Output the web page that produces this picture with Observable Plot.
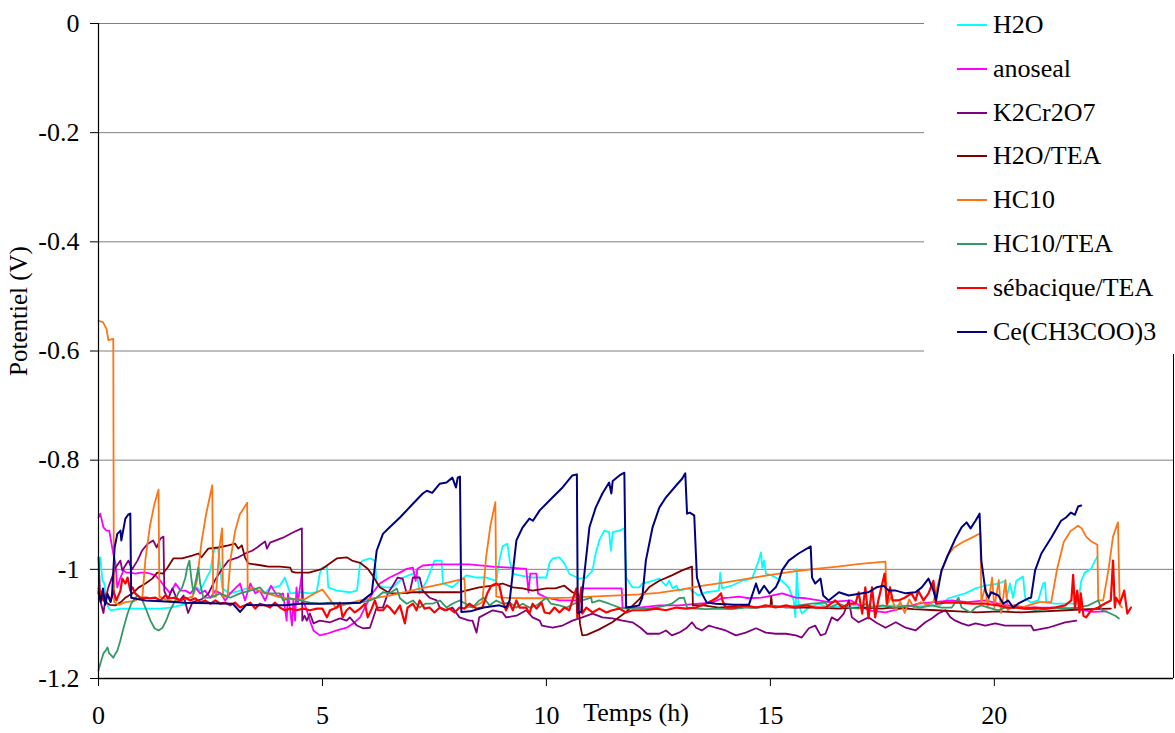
<!DOCTYPE html>
<html>
<head>
<meta charset="utf-8">
<script src="https://cdn.jsdelivr.net/npm/d3@7"></script>
<script src="https://cdn.jsdelivr.net/npm/@observablehq/plot@0.6"></script>
<style>
  html, body { margin: 0; padding: 0; background: #fff; }
  #wrap { position: relative; width: 1175px; height: 733px; font-family: "Liberation Serif", "Times New Roman", Tinos, "DejaVu Serif", serif; }
  #legend { position: absolute; left: 924px; top: 0; width: 251px; height: 354px; background: #fff; }
  .row { position: absolute; left: 0; height: 30px; width: 251px; }
  .sw { position: absolute; left: 33px; top: 14px; width: 30px; height: 2px; }
  .lb { position: absolute; left: 69px; top: 0; line-height: 30px; font-size: 26px; color: #000; white-space: nowrap; }
</style>
</head>
<body>
<div id="wrap"><div id="chart"></div><div id="legend"></div></div>
<script>
// ---- Data (time in hours, potential in V) ----
const seriesNames = ["H2O", "anoseal", "K2Cr2O7", "H2O/TEA", "HC10", "HC10/TEA", "sébacique/TEA", "Ce(CH3COO)3"];
const seriesColors = ["#00FFFF", "#FF00FF", "#800080", "#800000", "#FF7414", "#339966", "#FF0000", "#000080"];
const xTicks = [0, 5, 10, 15, 20];
const yTicks = [0, -0.2, -0.4, -0.6, -0.8, -1, -1.2];

const h2o = [[0,-1.002],[0.04,-0.978],[0.09,-1.021],[0.13,-1.026],[0.18,-1.057],[0.22,-1.07],[0.27,-1.075],[0.49,-1.072],[0.71,-1.072],[0.94,-1.072],[1.16,-1.072],[1.38,-1.072],[1.6,-1.07],[1.83,-1.066],[2.05,-1.061],[2.12,-1.044],[2.2,-1.033],[2.27,-1.039],[2.38,-1.021],[2.5,-1.002],[2.56,-0.971],[2.6,-0.962],[2.67,-0.962],[2.72,-0.997],[2.76,-1.033],[2.83,-1.039],[2.94,-1.044],[3.16,-1.039],[3.39,-1.033],[3.5,-1.039],[3.72,-1.044],[3.83,-1.033],[3.94,-1.033],[4.05,-1.03],[4.16,-1.015],[4.28,-1.044],[4.5,-1.042],[4.72,-1.044],[4.87,-1.042],[4.94,-1.008],[4.99,-0.997],[5.1,-0.995],[5.13,-1.033],[5.32,-1.039],[5.61,-1.042],[5.77,-1.039],[5.84,-0.989],[5.9,-0.984],[6.06,-0.98],[6.17,-0.984],[6.21,-1.026],[6.35,-1.033],[6.57,-1.033],[6.8,-1.015],[7.02,-1.008],[7.1,-1.002],[7.17,-1.044],[7.33,-1.021],[7.5,-0.984],[7.66,-0.984],[7.69,-1.026],[7.9,-1.033],[8.06,-1.021],[8.22,-1.011],[8.44,-1.015],[8.66,-1.015],[8.88,-1.021],[8.95,-0.984],[9.02,-0.958],[9.13,-0.953],[9.18,-0.984],[9.25,-1.008],[9.4,-1.011],[9.69,-1.015],[10.0,-1.015],[10.07,-0.988],[10.14,-0.98],[10.29,-0.978],[10.4,-0.989],[10.51,-1.008],[10.73,-1.017],[10.89,-1.015],[11.03,-1.002],[11.1,-0.971],[11.18,-0.947],[11.29,-0.929],[11.4,-0.932],[11.44,-0.966],[11.48,-0.932],[11.63,-0.929],[11.74,-0.925],[11.78,-1.015],[11.92,-1.033],[12.07,-1.033],[12.14,-1.026],[12.37,-1.021],[12.52,-1.017],[12.67,-1.03],[12.74,-1.021],[12.82,-1.035],[12.9,-1.03],[12.96,-1.039],[13.18,-1.035],[13.4,-1.048],[13.56,-1.042],[13.85,-1.039],[13.88,-1.006],[13.92,-1.035],[14.14,-1.03],[14.37,-1.021],[14.59,-1.017],[14.74,-0.984],[14.79,-0.969],[14.82,-0.997],[14.86,-0.984],[14.9,-1.008],[15.03,-1.011],[15.26,-1.021],[15.41,-1.033],[15.52,-1.057],[15.56,-1.088],[15.59,-0.999],[15.63,-1.063],[15.7,-1.081],[15.86,-1.07],[16.08,-1.063],[16.3,-1.07],[16.8,-1.066],[17.3,-1.068],[17.8,-1.066],[18.3,-1.068],[18.8,-1.065],[18.98,-1.053],[19.35,-1.044],[19.58,-1.035],[19.8,-1.03],[20.09,-1.026],[20.24,-1.021],[20.27,-1.052],[20.35,-1.026],[20.42,-1.052],[20.49,-1.021],[20.57,-1.017],[20.64,-1.013],[20.69,-1.053],[20.82,-1.061],[20.98,-1.057],[21.09,-1.026],[21.13,-1.024],[21.16,-1.061],[21.36,-1.063],[21.65,-1.063],[21.87,-1.063],[21.94,-1.021],[22.02,-1.006],[22.16,-0.999],[22.25,-0.984],[22.3,-0.977]];

const anoseal = [[0,-0.905],[0.04,-0.898],[0.11,-0.923],[0.18,-0.929],[0.24,-0.929],[0.29,-0.953],[0.33,-0.971],[0.38,-0.989],[0.42,-1.033],[0.49,-1.015],[0.56,-1.002],[0.62,-1.006],[0.71,-1.006],[0.82,-1.008],[0.94,-1.006],[1.05,-1.006],[1.16,-1.008],[1.27,-1.011],[1.38,-1.021],[1.49,-1.033],[1.6,-1.044],[1.72,-1.026],[1.83,-1.039],[1.94,-1.039],[2.05,-1.044],[2.16,-1.033],[2.27,-1.044],[2.38,-1.039],[2.5,-1.052],[2.61,-1.039],[2.72,-1.044],[2.83,-1.057],[2.94,-1.044],[3.16,-1.026],[3.27,-1.057],[3.39,-1.026],[3.5,-1.044],[3.6,-1.039],[3.72,-1.057],[3.85,-1.03],[4.0,-1.05],[4.12,-1.044],[4.2,-1.094],[4.23,-1.044],[4.32,-1.103],[4.35,-1.057],[4.39,-1.094],[4.42,-1.033],[4.45,-1.063],[4.54,-1.008],[4.57,-1.057],[4.65,-1.075],[4.72,-1.094],[4.8,-1.112],[4.94,-1.121],[5.1,-1.118],[5.32,-1.112],[5.54,-1.107],[5.69,-1.099],[5.84,-1.088],[5.99,-1.063],[6.13,-1.042],[6.28,-1.026],[6.5,-1.015],[6.73,-1.006],[6.88,-0.999],[7.02,-0.997],[7.08,-1.021],[7.12,-0.999],[7.24,-0.993],[7.55,-0.991],[7.9,-0.991],[8.28,-0.991],[8.8,-0.995],[9.18,-0.997],[9.55,-0.999],[9.6,-1.042],[9.64,-1.008],[9.78,-1.008],[9.81,-1.044],[10.0,-1.052],[10.29,-1.057],[10.45,-1.057],[10.78,-1.057],[10.8,-1.035],[11.2,-1.035],[11.68,-1.035],[11.7,-1.07],[12.07,-1.07],[12.52,-1.066],[12.96,-1.066],[13.4,-1.063],[13.7,-1.061],[13.92,-1.053],[14.08,-1.052],[14.3,-1.05],[14.52,-1.053],[14.8,-1.052],[15.03,-1.048],[15.26,-1.044],[15.57,-1.052],[15.8,-1.053],[16.08,-1.057],[16.3,-1.06],[16.8,-1.057],[17.19,-1.075],[17.57,-1.079],[18.0,-1.07],[18.3,-1.063],[19.05,-1.057],[19.4,-1.06],[19.8,-1.057],[20.2,-1.065],[20.82,-1.07],[21.3,-1.07],[21.8,-1.072],[22.2,-1.078],[22.5,-1.077]];

const k2cr2o7 = [[0,-0.978],[0.04,-1.057],[0.11,-1.08],[0.15,-1.057],[0.22,-1.033],[0.38,-0.997],[0.49,-0.984],[0.53,-1.002],[0.67,-0.984],[0.75,-1.0],[0.87,-0.984],[0.97,-0.966],[1.1,-0.953],[1.22,-0.947],[1.3,-0.96],[1.38,-0.944],[1.45,-0.94],[1.47,-1.04],[1.55,-1.055],[1.65,-1.035],[1.78,-1.06],[1.9,-1.048],[2.0,-1.08],[2.1,-1.06],[2.3,-1.055],[2.45,-1.045],[2.6,-1.02],[2.76,-0.999],[2.9,-0.984],[3.12,-0.978],[3.3,-0.97],[3.43,-0.966],[3.54,-0.96],[3.65,-0.953],[3.72,-0.949],[3.76,-0.962],[3.83,-0.951],[4.12,-0.942],[4.35,-0.932],[4.54,-0.925],[4.55,-1.094],[4.6,-1.085],[4.65,-1.094],[4.72,-1.081],[4.8,-1.099],[4.94,-1.094],[5.17,-1.097],[5.39,-1.09],[5.54,-1.094],[5.61,-1.088],[5.77,-1.103],[5.9,-1.108],[6.06,-1.107],[6.21,-1.07],[6.35,-1.07],[6.46,-1.044],[6.57,-1.03],[6.68,-1.015],[6.79,-1.017],[6.88,-1.044],[6.95,-1.042],[7.02,-1.015],[7.17,-1.015],[7.24,-1.039],[7.39,-1.052],[7.55,-1.057],[7.62,-1.07],[7.77,-1.075],[7.9,-1.07],[8.06,-1.088],[8.28,-1.094],[8.35,-1.094],[8.44,-1.116],[8.5,-1.088],[8.8,-1.075],[9.02,-1.079],[9.1,-1.088],[9.33,-1.085],[9.55,-1.075],[9.69,-1.088],[9.85,-1.094],[9.9,-1.103],[10.14,-1.107],[10.36,-1.103],[10.58,-1.094],[10.8,-1.088],[11.03,-1.081],[11.25,-1.088],[11.47,-1.09],[11.7,-1.094],[11.92,-1.097],[12.1,-1.107],[12.25,-1.118],[12.52,-1.118],[12.67,-1.112],[12.8,-1.121],[12.96,-1.116],[13.12,-1.108],[13.25,-1.097],[13.34,-1.107],[13.47,-1.112],[13.63,-1.103],[13.78,-1.107],[14.0,-1.112],[14.23,-1.121],[14.45,-1.116],[14.68,-1.108],[14.9,-1.116],[15.12,-1.118],[15.35,-1.118],[15.57,-1.121],[15.7,-1.125],[15.86,-1.108],[16.0,-1.103],[16.12,-1.121],[16.23,-1.118],[16.37,-1.088],[16.5,-1.094],[16.64,-1.081],[16.75,-1.057],[16.82,-1.088],[16.97,-1.097],[17.19,-1.088],[17.35,-1.097],[17.57,-1.107],[17.8,-1.097],[18.02,-1.107],[18.24,-1.112],[18.46,-1.097],[18.6,-1.09],[18.75,-1.081],[18.91,-1.075],[19.02,-1.088],[19.13,-1.094],[19.27,-1.099],[19.42,-1.103],[19.58,-1.099],[19.8,-1.103],[20.02,-1.099],[20.24,-1.103],[20.5,-1.103],[20.82,-1.103],[20.88,-1.112],[21.2,-1.107],[21.58,-1.097],[21.83,-1.094]];

const h2oTea = [[0,-1.035],[0.05,-1.05],[0.15,-1.06],[0.25,-1.065],[0.38,-1.066],[0.5,-1.06],[0.6,-1.052],[0.76,-1.044],[0.9,-1.033],[1.05,-1.026],[1.2,-1.017],[1.31,-1.006],[1.43,-1.008],[1.54,-0.997],[1.67,-0.98],[1.87,-0.98],[2.09,-0.975],[2.23,-0.971],[2.3,-0.978],[2.45,-0.962],[2.67,-0.96],[2.9,-0.956],[3.05,-0.953],[3.12,-0.962],[3.2,-0.956],[3.27,-0.978],[3.34,-0.989],[3.65,-0.993],[3.79,-0.995],[4.05,-0.995],[4.28,-0.997],[4.32,-1.004],[4.4,-1.006],[4.7,-1.006],[5.0,-0.999],[5.17,-0.989],[5.32,-0.98],[5.54,-0.978],[5.66,-0.984],[5.84,-0.988],[6.01,-0.999],[6.12,-1.011],[6.28,-1.033],[6.5,-1.044],[6.73,-1.044],[7.0,-1.042],[7.4,-1.042],[7.77,-1.042],[8.06,-1.042],[8.2,-1.039],[8.5,-1.033],[8.8,-1.03],[9.02,-1.026],[9.25,-1.033],[9.47,-1.035],[9.69,-1.039],[10.0,-1.035],[10.2,-1.035],[10.4,-1.03],[10.58,-1.042],[10.7,-1.044],[10.75,-1.1],[10.8,-1.121],[10.9,-1.12],[11.18,-1.11],[11.47,-1.097],[11.78,-1.078],[12.07,-1.055],[12.29,-1.033],[12.52,-1.021],[12.8,-1.011],[13.03,-1.002],[13.25,-0.995],[13.27,-1.066],[13.5,-1.066],[13.85,-1.07],[14.2,-1.068],[14.6,-1.07],[15.0,-1.068],[15.02,-1.05],[15.04,-1.068],[15.5,-1.07],[16.0,-1.07],[16.5,-1.072],[17.0,-1.07],[17.5,-1.072],[17.7,-1.07],[18.2,-1.073],[18.7,-1.075],[19.2,-1.077],[19.6,-1.079],[20.1,-1.077],[20.6,-1.079],[21.1,-1.077],[21.6,-1.075],[22.1,-1.073],[22.6,-1.072]];

const hc10 = [[0,-0.545],[0.1,-0.547],[0.18,-0.56],[0.22,-0.58],[0.33,-0.578],[0.34,-0.95],[0.35,-1.06],[0.45,-1.065],[0.6,-1.06],[0.8,-1.058],[0.98,-1.05],[1.05,-0.98],[1.15,-0.92],[1.25,-0.88],[1.34,-0.854],[1.36,-1.05],[1.5,-1.055],[1.7,-1.06],[1.9,-1.055],[2.1,-1.05],[2.2,-1.02],[2.3,-0.95],[2.4,-0.9],[2.54,-0.846],[2.56,-1.05],[2.62,-1.05],[2.7,-0.96],[2.76,-0.925],[2.78,-1.05],[2.88,-1.05],[2.95,-0.98],[3.05,-0.93],[3.15,-0.9],[3.32,-0.878],[3.33,-1.04],[3.43,-1.033],[3.6,-1.04],[3.8,-1.045],[4.0,-1.05],[4.3,-1.055],[4.6,-1.055],[4.8,-1.045],[5.0,-1.037],[5.3,-1.07],[5.6,-1.062],[5.84,-1.057],[6.5,-1.048],[7.2,-1.035],[7.7,-1.026],[8.17,-1.017],[8.2,-1.07],[8.4,-1.068],[8.57,-1.06],[8.65,-0.98],[8.75,-0.92],[8.86,-0.877],[8.88,-1.05],[9.0,-1.052],[9.5,-1.053],[10,-1.053],[10.5,-1.052],[11,-1.05],[11.5,-1.048],[12.07,-1.046],[12.5,-1.043],[13,-1.037],[13.5,-1.03],[14,-1.024],[14.5,-1.017],[15,-1.01],[15.5,-1.004],[16,-0.999],[16.5,-0.995],[17,-0.99],[17.57,-0.986],[17.6,-1.066],[17.7,-1.05],[17.8,-1.075],[17.9,-1.06],[18.0,-1.08],[18.1,-1.055],[18.2,-1.07],[18.35,-1.06],[18.5,-1.065],[18.64,-1.06],[18.8,-1.01],[18.95,-0.975],[19.1,-0.96],[19.3,-0.95],[19.5,-0.942],[19.69,-0.934],[19.71,-1.06],[19.8,-1.03],[19.85,-1.07],[19.95,-1.015],[20.0,-1.07],[20.1,-1.02],[20.15,-1.08],[20.25,-1.02],[20.3,-1.075],[20.45,-1.065],[20.6,-1.07],[20.8,-1.065],[21.0,-1.06],[21.27,-1.06],[21.4,-1.0],[21.55,-0.95],[21.7,-0.93],[21.87,-0.92],[21.95,-0.925],[22.05,-0.94],[22.15,-0.948],[22.3,-0.955],[22.32,-1.057],[22.43,-1.057],[22.55,-1.0],[22.65,-0.94],[22.76,-0.914],[22.8,-1.065],[22.85,-1.07]];

const hc10Tea = [[0,-1.185],[0.04,-1.173],[0.11,-1.154],[0.16,-1.149],[0.2,-1.143],[0.24,-1.154],[0.29,-1.158],[0.33,-1.162],[0.38,-1.154],[0.42,-1.149],[0.49,-1.13],[0.56,-1.107],[0.65,-1.081],[0.73,-1.063],[0.82,-1.052],[0.89,-1.048],[0.98,-1.057],[1.07,-1.075],[1.16,-1.094],[1.25,-1.108],[1.34,-1.112],[1.43,-1.107],[1.51,-1.094],[1.6,-1.075],[1.69,-1.061],[1.78,-1.044],[1.87,-1.033],[1.94,-1.015],[1.98,-0.997],[2.03,-0.984],[2.07,-1.015],[2.12,-1.044],[2.16,-1.026],[2.23,-0.997],[2.27,-1.026],[2.34,-1.052],[2.5,-1.052],[2.72,-1.044],[2.94,-1.052],[3.16,-1.044],[3.39,-1.039],[3.6,-1.033],[3.72,-1.044],[3.83,-1.044],[4.05,-1.044],[4.12,-1.057],[4.28,-1.053],[4.5,-1.057],[4.72,-1.061],[4.94,-1.063],[5.17,-1.061],[5.39,-1.063],[5.61,-1.063],[5.84,-1.061],[6.06,-1.057],[6.21,-1.052],[6.35,-1.042],[6.5,-1.044],[6.66,-1.035],[6.73,-1.053],[6.88,-1.063],[7.02,-1.057],[7.17,-1.07],[7.3,-1.063],[7.46,-1.063],[7.62,-1.057],[7.77,-1.07],[7.9,-1.063],[8.06,-1.057],[8.2,-1.063],[8.35,-1.07],[8.5,-1.057],[8.6,-1.052],[8.73,-1.066],[8.88,-1.057],[9.02,-1.063],[9.18,-1.061],[9.33,-1.07],[9.47,-1.063],[9.62,-1.07],[9.78,-1.066],[10.0,-1.052],[10.1,-1.063],[10.29,-1.066],[10.45,-1.07],[10.62,-1.063],[10.8,-1.057],[11.0,-1.052],[11.02,-1.061],[11.18,-1.057],[11.4,-1.063],[11.63,-1.07],[11.78,-1.072],[12.0,-1.07],[12.23,-1.072],[12.45,-1.07],[12.67,-1.066],[12.8,-1.063],[12.96,-1.053],[13.07,-1.052],[13.14,-1.07],[13.34,-1.072],[13.56,-1.073],[13.85,-1.072],[14.14,-1.073],[14.45,-1.07],[14.74,-1.07],[15.03,-1.066],[15.35,-1.07],[15.63,-1.066],[15.92,-1.063],[16.23,-1.061],[16.3,-1.07],[16.53,-1.063],[16.75,-1.07],[16.97,-1.072],[17.12,-1.063],[17.27,-1.07],[17.5,-1.066],[17.8,-1.07],[18.08,-1.066],[18.35,-1.07],[18.6,-1.066],[18.82,-1.07],[19.05,-1.07],[19.2,-1.052],[19.27,-1.07],[19.47,-1.079],[19.58,-1.07],[19.71,-1.066],[19.87,-1.07],[20.09,-1.075],[20.24,-1.07],[20.5,-1.07],[20.98,-1.075],[21.3,-1.07],[21.58,-1.072],[21.87,-1.07],[22.1,-1.066],[22.32,-1.057],[22.4,-1.075],[22.54,-1.079],[22.7,-1.085],[22.78,-1.09]];

const sebTea = [[0,-1.044],[0.04,-1.039],[0.11,-1.057],[0.18,-1.044],[0.27,-1.057],[0.33,-1.039],[0.4,-1.057],[0.49,-1.039],[0.53,-1.017],[0.6,-1.026],[0.65,-1.015],[0.71,-1.039],[0.76,-1.033],[0.82,-1.044],[0.94,-1.053],[1.05,-1.052],[1.16,-1.053],[1.27,-1.052],[1.38,-1.057],[1.49,-1.048],[1.6,-1.053],[1.72,-1.052],[1.83,-1.057],[1.94,-1.052],[2.05,-1.057],[2.16,-1.053],[2.27,-1.061],[2.38,-1.057],[2.5,-1.063],[2.61,-1.057],[2.72,-1.063],[2.83,-1.061],[2.94,-1.066],[3.05,-1.061],[3.16,-1.07],[3.27,-1.066],[3.39,-1.061],[3.5,-1.072],[3.6,-1.063],[3.72,-1.066],[3.83,-1.07],[3.94,-1.061],[4.05,-1.07],[4.16,-1.075],[4.28,-1.072],[4.42,-1.075],[4.57,-1.072],[4.72,-1.075],[4.88,-1.072],[5.0,-1.072],[5.1,-1.088],[5.17,-1.075],[5.32,-1.07],[5.39,-1.061],[5.45,-1.088],[5.54,-1.075],[5.61,-1.07],[5.72,-1.079],[5.84,-1.072],[5.95,-1.063],[6.01,-1.088],[6.1,-1.072],[6.17,-1.057],[6.24,-1.075],[6.35,-1.075],[6.44,-1.066],[6.5,-1.07],[6.61,-1.081],[6.73,-1.066],[6.84,-1.099],[6.9,-1.07],[7.02,-1.063],[7.1,-1.075],[7.17,-1.057],[7.28,-1.072],[7.39,-1.07],[7.5,-1.079],[7.62,-1.07],[7.73,-1.075],[7.84,-1.072],[7.95,-1.079],[8.06,-1.07],[8.17,-1.072],[8.28,-1.063],[8.44,-1.072],[8.57,-1.07],[8.68,-1.044],[8.77,-1.03],[8.88,-1.026],[8.95,-1.03],[9.02,-1.057],[9.1,-1.075],[9.18,-1.061],[9.25,-1.075],[9.33,-1.057],[9.4,-1.07],[9.55,-1.07],[9.62,-1.081],[9.69,-1.063],[9.78,-1.072],[9.89,-1.061],[9.96,-1.079],[10.07,-1.081],[10.18,-1.07],[10.29,-1.079],[10.4,-1.07],[10.51,-1.075],[10.58,-1.057],[10.67,-1.035],[10.69,-1.088],[10.78,-1.033],[10.8,-1.081],[10.89,-1.07],[11.03,-1.079],[11.18,-1.072],[11.34,-1.079],[11.47,-1.075],[11.63,-1.072],[11.78,-1.079],[11.92,-1.075],[12.07,-1.075],[12.22,-1.075],[12.45,-1.072],[12.67,-1.075],[12.9,-1.07],[13.12,-1.072],[13.34,-1.07],[13.56,-1.063],[13.7,-1.057],[13.81,-1.052],[13.9,-1.044],[13.93,-1.057],[14.0,-1.07],[14.23,-1.07],[14.45,-1.066],[14.68,-1.07],[14.9,-1.066],[15.12,-1.07],[15.35,-1.066],[15.57,-1.07],[15.8,-1.066],[16.0,-1.07],[16.23,-1.07],[16.3,-1.066],[16.45,-1.057],[16.6,-1.07],[16.75,-1.063],[16.9,-1.063],[16.97,-1.042],[17.05,-1.081],[17.12,-1.033],[17.19,-1.09],[17.27,-1.033],[17.34,-1.088],[17.41,-1.057],[17.48,-1.033],[17.55,-1.008],[17.6,-1.063],[17.67,-1.033],[17.73,-1.057],[17.86,-1.057],[18.0,-1.052],[18.15,-1.044],[18.24,-1.057],[18.3,-1.039],[18.42,-1.057],[18.53,-1.044],[18.64,-1.021],[18.7,-1.063],[18.91,-1.061],[19.2,-1.061],[19.5,-1.063],[19.8,-1.063],[20.09,-1.066],[20.27,-1.07],[20.5,-1.07],[20.69,-1.072],[20.9,-1.07],[21.13,-1.072],[21.35,-1.07],[21.58,-1.066],[21.72,-1.057],[21.76,-1.01],[21.8,-1.072],[21.85,-1.039],[21.9,-1.079],[21.93,-1.044],[21.99,-1.085],[22.05,-1.088],[22.16,-1.075],[22.32,-1.07],[22.46,-1.063],[22.6,-1.057],[22.65,-0.984],[22.69,-1.07],[22.72,-1.052],[22.8,-1.063],[22.9,-1.039],[22.97,-1.081],[23.05,-1.07]];

const ceAc = [[0,-1.04],[0.05,-1.06],[0.1,-1.035],[0.15,-1.065],[0.2,-1.045],[0.27,-1.06],[0.3,-1.05],[0.36,-0.96],[0.42,-0.935],[0.49,-0.929],[0.51,-0.947],[0.6,-0.907],[0.66,-0.9],[0.71,-0.898],[0.73,-1.052],[0.9,-1.055],[1.05,-1.057],[1.5,-1.059],[1.94,-1.061],[2.5,-1.062],[3.0,-1.063],[3.16,-1.078],[3.3,-1.065],[3.6,-1.066],[4.16,-1.066],[4.5,-1.063],[5.0,-1.063],[5.5,-1.062],[5.84,-1.061],[6.1,-1.044],[6.21,-0.966],[6.35,-0.935],[6.5,-0.923],[6.73,-0.905],[7.03,-0.879],[7.24,-0.861],[7.33,-0.856],[7.45,-0.86],[7.62,-0.843],[7.77,-0.841],[7.9,-0.832],[7.98,-0.85],[8.02,-0.832],[8.07,-0.83],[8.1,-1.078],[8.3,-1.077],[8.6,-1.07],[8.95,-1.066],[9.1,-1.07],[9.18,-1.057],[9.33,-0.947],[9.47,-0.923],[9.62,-0.907],[9.7,-0.911],[9.85,-0.892],[10.14,-0.868],[10.36,-0.85],[10.58,-0.828],[10.68,-0.826],[10.7,-1.08],[10.78,-1.078],[10.8,-1.044],[10.96,-0.923],[11.1,-0.887],[11.25,-0.861],[11.4,-0.841],[11.45,-0.861],[11.48,-0.838],[11.63,-0.828],[11.74,-0.823],[11.78,-1.07],[11.95,-1.068],[12.07,-1.066],[12.14,-1.052],[12.22,-0.984],[12.37,-0.923],[12.52,-0.887],[12.67,-0.868],[12.9,-0.846],[13.03,-0.834],[13.1,-0.824],[13.14,-0.898],[13.2,-0.896],[13.3,-0.901],[13.36,-1.015],[13.47,-1.044],[13.58,-1.061],[13.78,-1.063],[14.2,-1.065],[14.52,-1.065],[14.68,-1.026],[14.75,-1.044],[14.86,-1.03],[14.98,-1.044],[15.12,-1.033],[15.19,-1.021],[15.26,-1.002],[15.41,-0.984],[15.63,-0.971],[15.9,-0.958],[15.93,-1.015],[16.0,-1.026],[16.12,-1.017],[16.18,-1.048],[16.3,-1.057],[16.53,-1.042],[16.75,-1.048],[17.19,-1.042],[17.37,-1.033],[17.53,-1.03],[17.64,-1.039],[17.8,-1.039],[18.02,-1.044],[18.24,-1.042],[18.38,-1.033],[18.53,-1.017],[18.64,-1.039],[18.7,-1.057],[18.82,-1.002],[18.98,-0.971],[19.13,-0.944],[19.27,-0.923],[19.38,-0.914],[19.47,-0.925],[19.58,-0.911],[19.67,-0.898],[19.71,-0.984],[19.8,-1.039],[19.87,-1.052],[19.93,-1.042],[20.09,-1.048],[20.2,-1.063],[20.31,-1.057],[20.42,-1.07],[20.53,-1.063],[20.76,-1.053],[20.82,-1.052],[20.91,-1.002],[21.05,-0.971],[21.27,-0.942],[21.49,-0.911],[21.6,-0.905],[21.71,-0.896],[21.8,-0.9],[21.87,-0.885],[21.94,-0.883]];

const seriesData = [h2o, anoseal, k2cr2o7, h2oTea, hc10, hc10Tea, sebTea, ceAc];
const seriesWidths = [1.8, 1.8, 1.8, 1.8, 1.8, 1.8, 2.2, 2];

// ---- Build long table ----
const rows = [];
seriesData.forEach((arr, i) => arr.forEach(([t, v]) => rows.push({series: seriesNames[i], t, v})));

const fmt = d => String(d);
const FONT = "'Liberation Serif', 'Times New Roman', Tinos, 'DejaVu Serif', serif";

const chart = Plot.plot({
  width: 1175,
  height: 733,
  marginLeft: 98,
  marginRight: 2,
  marginTop: 23,
  marginBottom: 55,
  style: { fontFamily: FONT, fontSize: "26px", background: "#fff", color: "#000" },
  x: { domain: [0, 24] },
  y: { domain: [-1.2, 0] },
  color: { domain: seriesNames, range: seriesColors },
  marks: [
    Plot.gridY(yTicks, { stroke: "#808080", strokeOpacity: 1, strokeWidth: 1 }),
    ...seriesNames.map((name, i) =>
      Plot.line(rows.filter(r => r.series === name), { x: "t", y: "v", stroke: "series", strokeWidth: seriesWidths[i], curve: "linear" })
    ),
    Plot.ruleX([24], { stroke: "#000", strokeWidth: 1 }),
    Plot.ruleX([0], { stroke: "#000", strokeWidth: 1.2 }),
    Plot.ruleY([-1.2], { stroke: "#000", strokeWidth: 1.5 }),
    Plot.axisY(yTicks, { tickSize: 8, tickPadding: 11, tickFormat: fmt, label: null, fontSize: 26, fontFamily: FONT }),
    Plot.axisX(xTicks, { tickSize: 8, tickPadding: 19, tickFormat: fmt, label: null, fontSize: 26, fontFamily: FONT }),
    Plot.text(["Temps (h)"], { frameAnchor: "bottom", dy: 42, fontSize: 26, fontFamily: FONT }),
    Plot.text(["Potentiel (V)"], { frameAnchor: "left", textAnchor: "middle", dx: -80, dy: -40, rotate: -90, fontSize: 25, fontFamily: FONT })
  ]
});
document.getElementById("chart").appendChild(chart);

// ---- Legend (overlaid, as in the reference) ----
const legend = document.getElementById("legend");
seriesNames.forEach((name, i) => {
  const row = document.createElement("div");
  row.className = "row";
  row.style.top = (10 + i * 43.8) + "px";
  const sw = document.createElement("div");
  sw.className = "sw";
  sw.style.background = seriesColors[i];
  const lb = document.createElement("div");
  lb.className = "lb";
  lb.textContent = name;
  row.appendChild(sw);
  row.appendChild(lb);
  legend.appendChild(row);
});
</script>
</body>
</html>
